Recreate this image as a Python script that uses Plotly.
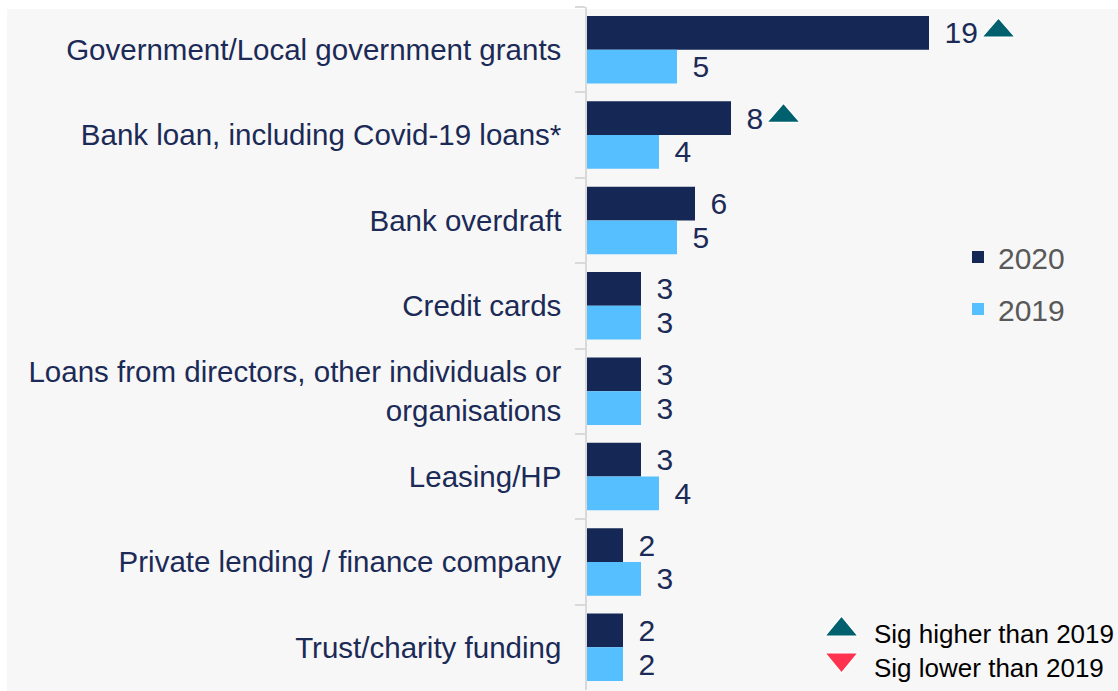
import plotly.graph_objects as go

categories = [
    "Government/Local government grants",
    "Bank loan, including Covid-19 loans*",
    "Bank overdraft",
    "Credit cards",
    "Loans from directors, other individuals or<br>organisations",
    "Leasing/HP",
    "Private lending / finance company",
    "Trust/charity funding",
]
values_2020 = [19, 8, 6, 3, 3, 3, 2, 2]
values_2019 = [5, 4, 5, 3, 3, 4, 3, 2]
# significance vs 2019: +1 higher, -1 lower, 0 none
sig_2020 = [1, 1, 0, 0, 0, 0, 0, 0]

NAVY = "#152855"
LIGHT = "#55bfff"
TEXT = "#1b2a56"
TEAL = "#00606e"
RED = "#ff334f"
FONT = "Liberation Sans, Arial, sans-serif"

W, H = 1118, 691
ML, MR, MT, MB = 587, 0, 7, 1
PX_PER_UNIT = 18.0
plot_w = W - ML - MR
plot_h = H - MT - MB

fig = go.Figure()
for name, vals, col in [("2020", values_2020, NAVY), ("2019", values_2019, LIGHT)]:
    fig.add_trace(go.Bar(
        name=name, y=categories, x=vals, orientation="h",
        marker=dict(color=col, line=dict(width=0)),
        text=vals, texttemplate="\u2004\u200a%{x}", textposition="outside",
        textfont=dict(family=FONT, size=30, color=TEXT),
        constraintext="none", cliponaxis=False,
        legendgroup=name, hoverinfo="skip",
    ))

shapes = [
    # grey panel behind the chart
    dict(type="rect", xref="paper", yref="paper",
         x0=(7 - ML) / plot_w, x1=1.0,
         y0=-MB / plot_h, y1=1 - (9 - MT) / plot_h,
         fillcolor="#f7f7f7", line=dict(width=0), layer="below"),
]

# significance triangles after the 2020 value labels
for cat, v, s in zip(categories, values_2020, sig_2020):
    if s == 0:
        continue
    left = 17 + 17 * len(str(v)) + 2
    if s > 0:
        path = f"M{left},12.6 L{left + 33},12.6 L{left + 16.5},31.6 Z"
        col = TEAL
    else:
        path = f"M{left},31.6 L{left + 33},31.6 L{left + 16.5},12.6 Z"
        col = RED
    shapes.append(dict(type="path", xref="x", yref="y",
                       xsizemode="pixel", ysizemode="pixel",
                       xanchor=v, yanchor=cat, path=path,
                       fillcolor=col, line=dict(color="white", width=1.2)))

# significance key
key_x = (841.5 - ML) / plot_w
for yc, col, up in [(626, TEAL, True), (663, RED, False)]:
    yp = 1 - (yc - MT) / plot_h
    if up:
        path = "M-16.5,-10 L16.5,-10 L0,10 Z"
    else:
        path = "M-16.5,10 L16.5,10 L0,-10 Z"
    shapes.append(dict(type="path", xref="paper", yref="paper",
                       xsizemode="pixel", ysizemode="pixel",
                       xanchor=key_x, yanchor=yp, path=path,
                       fillcolor=col, line=dict(color="white", width=1.2)))

annotations = []
for yc, label in [(634, "Sig higher than 2019"), (668, "Sig lower than 2019")]:
    annotations.append(dict(
        xref="paper", yref="paper", x=(872 - ML) / plot_w,
        y=1 - (yc - MT) / plot_h, xanchor="left", yanchor="middle",
        text=label, showarrow=False,
        font=dict(family=FONT, size=26, color="#000000"),
    ))

fig.update_layout(
    width=W, height=H,
    margin=dict(l=ML, r=MR, t=MT, b=MB, pad=0),
    paper_bgcolor="white", plot_bgcolor="rgba(0,0,0,0)",
    barmode="group", bargap=0.21, bargroupgap=0,
    showlegend=True,
    legend=dict(
        x=(958 - ML) / plot_w, y=1 - (231 - MT) / plot_h,
        xanchor="left", yanchor="top",
        font=dict(family=FONT, size=30, color="#595959"),
        bgcolor="rgba(0,0,0,0)", traceorder="grouped", tracegroupgap=10,
        itemwidth=30,
    ),
    shapes=shapes, annotations=annotations,
    font=dict(family=FONT),
)
fig.update_xaxes(visible=False, range=[0, plot_w / PX_PER_UNIT])
fig.update_yaxes(
    autorange="reversed", type="category",
    showline=True, linecolor="#d9d9d9", linewidth=1.5,
    ticks="outside", tickson="boundaries", ticklen=10,
    tickcolor="#d9d9d9", tickwidth=1.5,
    ticklabelstandoff=18,
    tickfont=dict(family=FONT, size=29.5, color=TEXT),
    showgrid=False, zeroline=False,
)

fig.write_html("out.html")
